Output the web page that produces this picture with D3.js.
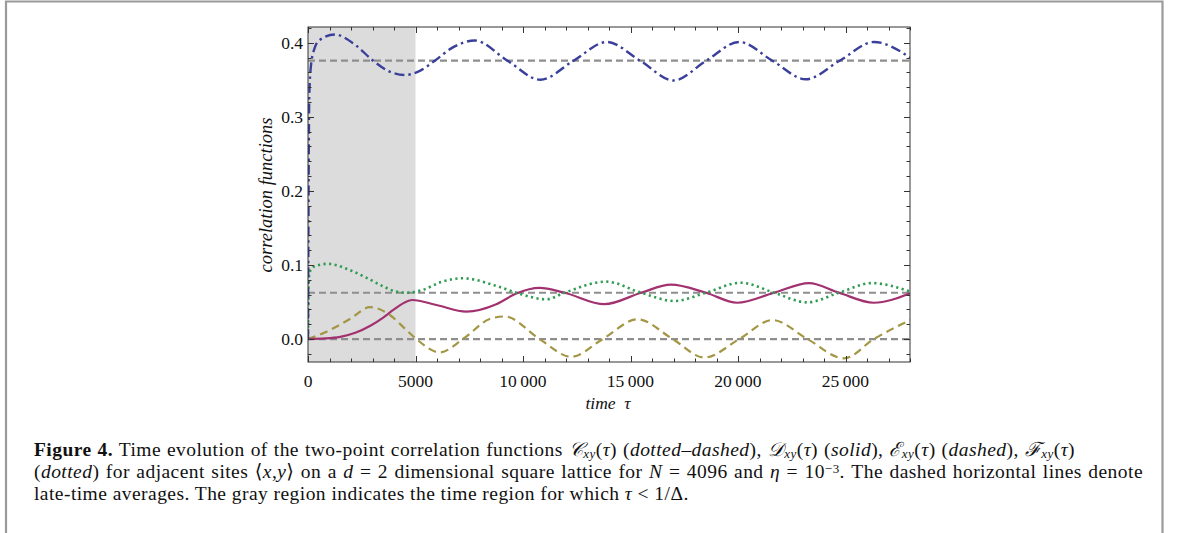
<!DOCTYPE html>
<html>
<head>
<meta charset="utf-8">
<script src="https://cdn.jsdelivr.net/npm/d3@7/dist/d3.min.js"></script>
<style>
  html, body { margin: 0; padding: 0; background: #fff; }
  svg { display: block; }
  .serif { font-family: "Liberation Serif", "DejaVu Serif", serif; }
</style>
</head>
<body>
<svg id="fig" width="1179" height="533"></svg>
<script>
// Correlation functions vs. time tau, read as [tau, value] samples
const seriesC = [[0,0],[20,0.15],[60,0.33],[150,0.372],[300,0.392],[560,0.404],[1250,0.411],[2200,0.397],[3030,0.3757],[3800,0.361],[4500,0.3564],[5200,0.362],[5900,0.3757],[6700,0.393],[7750,0.403],[9280,0.3757],[10800,0.350],[12350,0.3757],[13900,0.401],[15450,0.3757],[17000,0.349],[18520,0.3757],[20050,0.401],[21600,0.3757],[23150,0.3506],[24730,0.3757],[26320,0.401],[28000,0.380]];
const seriesD = [[0,0],[800,0.0008],[1500,0.003],[2200,0.0085],[2900,0.018],[3500,0.029],[4000,0.040],[4400,0.0478],[4850,0.0527],[5970,0.046],[7370,0.037],[8760,0.047],[9690,0.0615],[10770,0.069],[11930,0.0625],[13790,0.047],[15490,0.0625],[16880,0.0735],[18510,0.0625],[19960,0.049],[21680,0.0625],[23300,0.0755],[24700,0.0625],[26320,0.049],[28000,0.0617]];
const seriesE = [[0,0],[860,0.0099],[1950,0.027],[2880,0.043],[3810,0.0324],[4580,0.012],[5040,0],[6130,-0.018],[7210,0],[8450,0.027],[9150,0.0305],[10770,0],[12240,-0.024],[13710,0],[15330,0.0266],[16960,0],[18430,-0.025],[20060,0],[21600,0.0256],[23230,0],[24930,-0.026],[26320,0],[28000,0.0256]];
const seriesF = [[0,0],[15,0.05],[50,0.085],[150,0.095],[400,0.099],[930,0.1015],[1950,0.093],[2700,0.083],[3500,0.071],[4100,0.064],[4600,0.0625],[5300,0.066],[6200,0.077],[7200,0.082],[8880,0.0705],[9690,0.0625],[11080,0.0536],[11930,0.0625],[13870,0.0775],[15490,0.0625],[17040,0.0513],[18510,0.0625],[20130,0.076],[21680,0.0625],[23210,0.0495],[24700,0.0625],[26230,0.0755],[28000,0.064]];

// Late-time averages (dashed horizontal lines)
const lateTimeMeans = [0.3757, 0.0625, 0.0];
// Region tau < 1/Delta
const shadeEnd = 5000;

const xTicks = [0, 5000, 10000, 15000, 20000, 25000];
const xTickLabels = ["0", "5000", "10\u2009000", "15\u2009000", "20\u2009000", "25\u2009000"];
const yTicks = [0.0, 0.1, 0.2, 0.3, 0.4];
const yTickLabels = ["0.0", "0.1", "0.2", "0.3", "0.4"];

const svg = d3.select("#fig");

// Figure box (open at the bottom)
svg.append("path")
  .attr("d", "M6,534 V1.5 H1162.5 V534")
  .attr("fill", "none").attr("stroke", "#9a9a9a").attr("stroke-width", 2.2);

const pL = 308, pR = 910, pT = 27, pB = 362;
const x = d3.scaleLinear().domain([0, 28000]).range([pL, pR]);
const y = d3.scaleLinear().domain([-0.031, 0.4212]).range([pB, pT]);

const plot = svg.append("g");

plot.append("rect")
  .attr("x", x(0)).attr("y", pT)
  .attr("width", x(shadeEnd) - x(0)).attr("height", pB - pT)
  .attr("fill", "#dcdcdc");

const line = d3.line().x(d => x(d[0])).y(d => y(d[1])).curve(d3.curveMonotoneX);

// Averages
plot.selectAll("line.mean").data(lateTimeMeans).enter().append("line")
  .attr("class", "mean")
  .attr("x1", x(0)).attr("x2", x(28000))
  .attr("y1", d => y(d)).attr("y2", d => y(d))
  .attr("stroke", "#8e8e8e").attr("stroke-width", 2.2)
  .attr("stroke-dasharray", "7,4");

svg.append("clipPath").attr("id", "pc").append("rect")
  .attr("x", pL).attr("y", pT - 5).attr("width", pR - pL).attr("height", pB - pT + 10);

const curves = plot.append("g").attr("clip-path", "url(#pc)");
curves.append("path").datum(seriesE).attr("d", line)
  .attr("fill", "none").attr("stroke", "#a39644").attr("stroke-width", 2.2)
  .attr("stroke-dasharray", "8,5");
curves.append("path").datum(seriesD).attr("d", line)
  .attr("fill", "none").attr("stroke", "#a2316f").attr("stroke-width", 2.2);
curves.append("path").datum(seriesF).attr("d", line)
  .attr("fill", "none").attr("stroke", "#2f9c52").attr("stroke-width", 2.6)
  .attr("stroke-dasharray", "2.2,3.4").attr("stroke-linecap", "butt");
curves.append("path").datum(seriesC).attr("d", line)
  .attr("fill", "none").attr("stroke", "#393f9b").attr("stroke-width", 2.4)
  .attr("stroke-dasharray", "10,4,2.5,4");

// Frame and inward ticks on all four sides
plot.append("rect").attr("x", pL).attr("y", pT)
  .attr("width", pR - pL).attr("height", pB - pT)
  .attr("fill", "none").attr("stroke", "#333").attr("stroke-width", 1);

const xMinor = d3.range(0, 28001, 1000);
const yMinor = d3.range(-0.02, 0.4201, 0.02).map(v => +v.toFixed(2));
const tickG = plot.append("g").attr("stroke", "#333").attr("stroke-width", 1);
xMinor.forEach(t => {
  const major = t % 5000 === 0;
  const len = major ? 6 : 3.5;
  const px = Math.round(x(t)) + 0.5;
  tickG.append("line").attr("x1", px).attr("x2", px).attr("y1", pB).attr("y2", pB - len);
  tickG.append("line").attr("x1", px).attr("x2", px).attr("y1", pT).attr("y2", pT + len);
});
yMinor.forEach(v => {
  const major = Math.abs(v * 10 - Math.round(v * 10)) < 1e-6;
  const len = major ? 6 : 3.5;
  const py = Math.round(y(v)) + 0.5;
  tickG.append("line").attr("x1", pL).attr("x2", pL + len).attr("y1", py).attr("y2", py);
  tickG.append("line").attr("x1", pR).attr("x2", pR - len).attr("y1", py).attr("y2", py);
});

const labels = svg.append("g").attr("class", "serif").attr("fill", "#111").attr("font-size", 17.5);
xTicks.forEach((t, i) => {
  labels.append("text").attr("x", x(t)).attr("y", pB + 25)
    .attr("text-anchor", "middle").text(xTickLabels[i]);
});
yTicks.forEach((v, i) => {
  labels.append("text").attr("x", pL - 5).attr("y", y(v) + 6)
    .attr("text-anchor", "end").text(yTickLabels[i]);
});
labels.append("text").attr("x", 608).attr("y", 409).attr("text-anchor", "middle")
  .attr("font-style", "italic").text("time\u2002\u03C4");
labels.append("text")
  .attr("transform", "translate(272,195) rotate(-90)")
  .attr("text-anchor", "middle").attr("font-style", "italic").attr("font-size", 18.5)
  .text("correlation functions");

// Caption
const cap = svg.append("g").attr("class", "serif").attr("fill", "#111")
  .attr("font-size", 19.5).attr("letter-spacing", 0.45);
function captionLine(yPos, parts, width) {
  const t = cap.append("text").attr("x", 34).attr("y", yPos);
  parts.forEach(p => {
    const s = t.append("tspan").text(p.s);
    if (p.b) s.attr("font-weight", "bold");
    if (p.i) s.attr("font-style", "italic");
    if (p.sub) s.attr("font-size", 13).attr("dy", 2);
    if (p.up) s.attr("dy", -2);
    if (p.sup) s.attr("font-size", 13).attr("dy", -5.5);
    if (p.down) s.attr("dy", 5.5);
  });
  if (width) {
    const w = t.node().getComputedTextLength();
    const gaps = (t.text().match(/ /g) || []).length;
    if (gaps > 0) t.attr("word-spacing", (width - w) / gaps);
  }
  return t;
}
const tau = [{s: "(", up: true}, {s: "\u03C4", i: true}, {s: ") ("}];
captionLine(456, [
  {s: "Figure 4.", b: true},
  {s: " Time evolution of the two-point correlation functions "},
  {s: "\uD835\uDC9E", i: true}, {s: "xy", i: true, sub: true}, ...tau,
  {s: "dotted\u2013dashed", i: true}, {s: "), "},
  {s: "\uD835\uDC9F", i: true}, {s: "xy", i: true, sub: true}, ...tau,
  {s: "solid", i: true}, {s: "), "},
  {s: "\u2130", i: true}, {s: "xy", i: true, sub: true}, ...tau,
  {s: "dashed", i: true}, {s: "), "},
  {s: "\u2131", i: true}, {s: "xy", i: true, sub: true}, {s: "(", up: true}, {s: "\u03C4", i: true}, {s: ")"}
], 1041);
captionLine(478, [
  {s: "("}, {s: "dotted", i: true},
  {s: ") for adjacent sites \u27E8"}, {s: "x", i: true}, {s: ","}, {s: "y", i: true},
  {s: "\u27E9 on a "}, {s: "d", i: true}, {s: " = 2 dimensional square lattice for "},
  {s: "N", i: true}, {s: " = 4096 and "}, {s: "\u03B7", i: true}, {s: " = 10"},
  {s: "\u22123", sup: true}, {s: ". The dashed horizontal lines denote", down: true}
], 1109);
captionLine(500, [
  {s: "late-time averages. The gray region indicates the time region for which "},
  {s: "\u03C4", i: true}, {s: " < 1/\u0394."}
]);
</script>
</body>
</html>
